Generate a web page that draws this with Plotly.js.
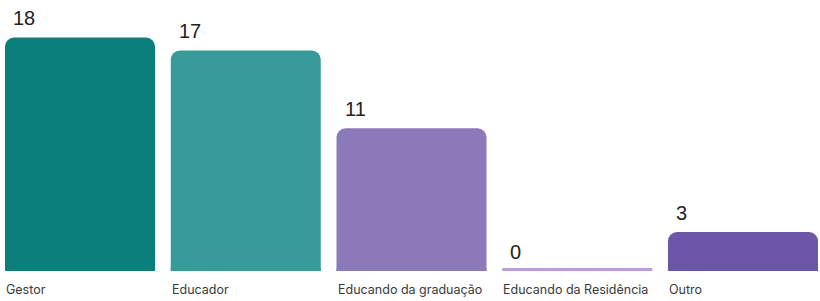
<!DOCTYPE html>
<html>
<head>
<meta charset="utf-8">
<script src="https://cdn.plot.ly/plotly-3.0.1.min.js"></script>
<style>html,body{margin:0;padding:0;background:#fff;}#chart{width:820px;height:301px;}</style>
</head>
<body>
<div id="chart"></div>
<script>
const categories = ["Gestor", "Educador", "Educando da graduação", "Educando da Residência", "Outro"];
const values = [18, 17, 11, 0, 3];
const colors = ["#0b7f7b", "#379b9a", "#8c79b9", "#b99be2", "#6b56a8"];

const SPAN = 20.9;             // visible value span of the plot area
const STUB = 3 * SPAN / 271;   // 3 px minimum strip so a zero value still shows
const idx = categories.map((c, i) => i);

const stub = {
  type: "bar",
  x: idx,
  y: idx.map(() => STUB),
  marker: { color: colors, line: { width: 0 } },
  width: 0.905,
  hoverinfo: "skip"
};

const trace = {
  type: "bar",
  x: idx,
  y: values,
  marker: { color: colors, cornerradius: 9, line: { width: 0 } },
  width: 0.905,
  hoverinfo: "skip"
};

const annotations = [];
values.forEach((v, i) => {
  annotations.push({
    xref: "x", yref: "y", x: i, y: v,
    xanchor: "left", yanchor: "middle", xshift: -69, yshift: 19.5,
    text: String(v), showarrow: false,
    font: { family: "Liberation Sans, Arial, sans-serif", size: 20, color: "#222" }
  });
  annotations.push({
    xref: "x", yref: "paper", x: i, y: 0,
    xanchor: "left", yanchor: "middle", xshift: -76, yshift: -18.5,
    text: categories[i], showarrow: false,
    font: { family: "Inter, sans-serif", size: 12.5, color: "#3a3a3a" }
  });
});

const layout = {
  width: 820, height: 301,
  barmode: "overlay",
  margin: { l: 0, r: 0, t: 0, b: 30, pad: 0 },
  paper_bgcolor: "#fff", plot_bgcolor: "#fff",
  showlegend: false,
  xaxis: { range: [-0.4827, 4.4646], showgrid: false, zeroline: false, showticklabels: false, ticks: "", showline: false, fixedrange: true },
  yaxis: { range: [0, SPAN], showgrid: false, zeroline: false, showticklabels: false, ticks: "", showline: false, fixedrange: true },
  annotations: annotations
};

Plotly.newPlot("chart", [stub, trace], layout, { displayModeBar: false, staticPlot: true });
</script>
</body>
</html>
